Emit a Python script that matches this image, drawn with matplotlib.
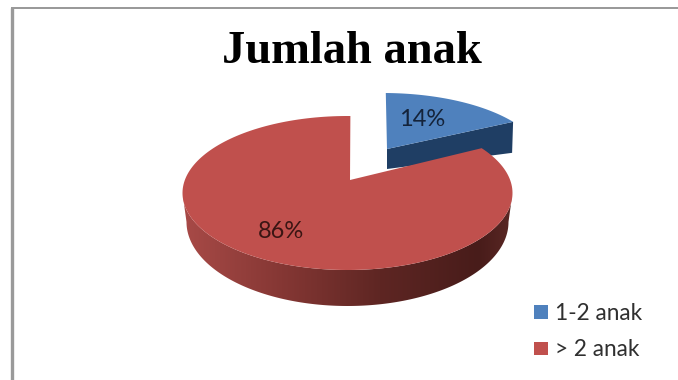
import numpy as np
import matplotlib
matplotlib.use("Agg")
import matplotlib.pyplot as plt
from matplotlib.patches import Polygon, Rectangle
from matplotlib.colors import LinearSegmentedColormap

categories = ["1-2 anak", "> 2 anak"]
shares = [14, 86]
title = "Jumlah anak"

BLUE = "#4F81BD"
RED = "#C0504D"
START_DEG = 1.0
# foreshortening of the tilted disc pushes the slice boundary a little further round
TILT_DEG = 3.0


def rim(cx, cy, rx, ry, a0, a1, n=200):
    # angles run clockwise from the top of the tilted disc
    t = np.radians(np.linspace(a0, a1, n))
    return np.column_stack([cx + rx * np.sin(t), cy - ry * np.cos(t)])


fig = plt.figure(figsize=(6.78, 3.8), dpi=100)
ax = fig.add_axes([0, 0, 1, 1])
total = sum(shares)
split = START_DEG + TILT_DEG + 360.0 * shares[0] / total

# outer frame
ax.plot([11.8, 11.8], [8, 380], color="#9A9A9A", lw=2.4, solid_capstyle="butt")
ax.plot([11, 678], [8, 8], color="#989898", lw=1.4, solid_capstyle="butt")

# exploded blue slice, side first
blue_top = rim(383, 162, 160, 69, START_DEG, split)
blue_vertex = (387, 149)
corner = blue_top[-1]
ax.add_patch(Polygon([blue_vertex, corner, (corner[0] - 1, corner[1] + 31), (387, 169)],
                     closed=True, fc="#1F3E64", ec="none"))
ax.add_patch(Polygon(np.vstack([[blue_vertex], blue_top]), closed=True, fc=BLUE, ec="none"))

# red side wall with shading from left to right
upper = rim(347.5, 193, 165, 77, 90, 270)
lower = rim(347.5, 222, 161, 84, 270, 90)
wall = Polygon(np.vstack([upper, lower]), closed=True, fc="none", ec="none")
ax.add_patch(wall)
shade = LinearSegmentedColormap.from_list(
    "wall", [(0, "#A84A47"), (0.3, "#853734"), (0.6, "#5E2623"), (0.9, "#481C1A"), (1, "#5A2724")])
grad = ax.imshow(np.linspace(0, 1, 256)[None, :], cmap=shade, aspect="auto",
                 extent=[183, 512, 320, 180], zorder=2)
grad.set_clip_path(wall)

# red top face
red_top = rim(347.5, 193, 165, 77, split, 360 + START_DEG)
ax.add_patch(Polygon(np.vstack([[(350, 180)], red_top]), closed=True, fc=RED, ec="none", zorder=3))

# data labels
ax.text(422, 120, f"{shares[0]}%", fontsize=17, family="Lato", color="#14233A",
        ha="center", va="center", zorder=4)
ax.text(281, 232, f"{shares[1]}%", fontsize=17, family="Lato", color="#3A1513",
        ha="center", va="center", zorder=4)

ax.text(352, 52, title, fontsize=33.5, family="Liberation Serif", weight="bold",
        color="black", ha="center", va="center")

# legend
for y, name, col in zip([311.5, 348], categories, [BLUE, RED]):
    ax.add_patch(Rectangle((534, y - 6.5), 13.5, 13.5, fc=col, ec="none"))
    ax.text(555, y + 2, name, fontsize=16.3, family="Lato", color="#303030", ha="left", va="center")

ax.set_xlim(0, 678)
ax.set_ylim(380, 0)
ax.axis("off")
fig.savefig("out.png", dpi=100)
